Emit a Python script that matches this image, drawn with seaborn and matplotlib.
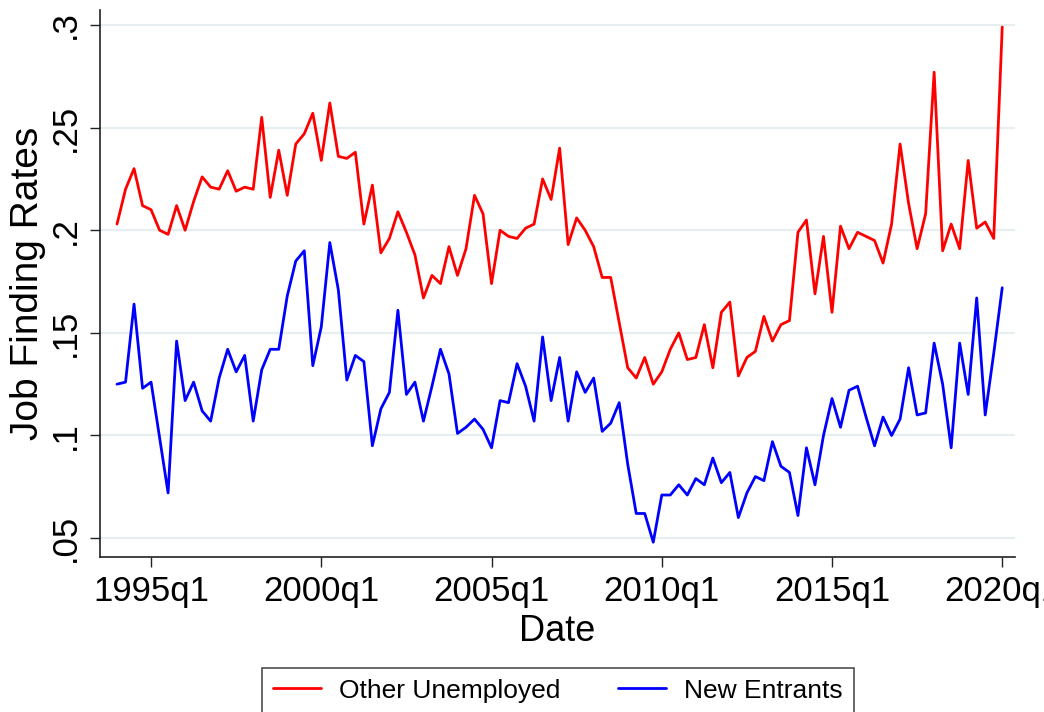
import numpy as np
import pandas as pd
import matplotlib
matplotlib.use("Agg")
import matplotlib.pyplot as plt
import seaborn as sns

# Quarterly data, 1994q1 .. 2020q1
start_year = 1994
other_unemployed = [
    0.203, 0.220, 0.230, 0.212, 0.210, 0.200, 0.198, 0.212, 0.200, 0.214,
    0.226, 0.221, 0.220, 0.229, 0.219, 0.221, 0.220, 0.255, 0.216, 0.239,
    0.217, 0.242, 0.247, 0.257, 0.234, 0.262, 0.236, 0.235, 0.238, 0.203,
    0.222, 0.189, 0.196, 0.209, 0.199, 0.188, 0.167, 0.178, 0.174, 0.192,
    0.178, 0.191, 0.217, 0.208, 0.174, 0.200, 0.197, 0.196, 0.201, 0.203,
    0.225, 0.215, 0.240, 0.193, 0.206, 0.200, 0.192, 0.177, 0.177, 0.155,
    0.133, 0.128, 0.138, 0.125, 0.131, 0.142, 0.150, 0.137, 0.138, 0.154,
    0.133, 0.160, 0.165, 0.129, 0.138, 0.141, 0.158, 0.146, 0.154, 0.156,
    0.199, 0.205, 0.169, 0.197, 0.160, 0.202, 0.191, 0.199, 0.197, 0.195,
    0.184, 0.203, 0.242, 0.213, 0.191, 0.208, 0.277, 0.190, 0.203, 0.191,
    0.234, 0.201, 0.204, 0.196, 0.299,
]
new_entrants = [
    0.125, 0.126, 0.164, 0.123, 0.126, 0.099, 0.072, 0.146, 0.117, 0.126,
    0.112, 0.107, 0.128, 0.142, 0.131, 0.139, 0.107, 0.132, 0.142, 0.142,
    0.168, 0.185, 0.190, 0.134, 0.153, 0.194, 0.171, 0.127, 0.139, 0.136,
    0.095, 0.113, 0.121, 0.161, 0.120, 0.126, 0.107, 0.124, 0.142, 0.130,
    0.101, 0.104, 0.108, 0.103, 0.094, 0.117, 0.116, 0.135, 0.124, 0.107,
    0.148, 0.117, 0.138, 0.107, 0.131, 0.121, 0.128, 0.102, 0.106, 0.116,
    0.086, 0.062, 0.062, 0.048, 0.071, 0.071, 0.076, 0.071, 0.079, 0.076,
    0.089, 0.077, 0.082, 0.060, 0.072, 0.080, 0.078, 0.097, 0.085, 0.082,
    0.061, 0.094, 0.076, 0.100, 0.118, 0.104, 0.122, 0.124, 0.109, 0.095,
    0.109, 0.100, 0.108, 0.133, 0.110, 0.111, 0.145, 0.125, 0.094, 0.145,
    0.120, 0.167, 0.110, 0.140, 0.172,
]
series_names = ["Other Unemployed", "New Entrants"]
series_colors = ["#ff0000", "#0000ff"]
x_tick_labels = ["1995q1", "2000q1", "2005q1", "2010q1", "2015q1", "2020q1"]
y_ticks = [0.05, 0.10, 0.15, 0.20, 0.25, 0.30]
y_tick_labels = [".05", ".1", ".15", ".2", ".25", ".3"]

n = len(other_unemployed)
t = np.arange(n)  # quarter index, 0 = 1994q1
df = pd.concat([
    pd.DataFrame({"t": t, "rate": other_unemployed, "series": series_names[0]}),
    pd.DataFrame({"t": t, "rate": new_entrants, "series": series_names[1]}),
])

sns.set_theme(style="white")
plt.rcParams["font.family"] = ["Liberation Sans", "DejaVu Sans"]
plt.rcParams["text.color"] = "black"
plt.rcParams["axes.labelcolor"] = "black"
plt.rcParams["xtick.color"] = "black"
plt.rcParams["ytick.color"] = "black"

fig = plt.figure(figsize=(10.44, 7.12), dpi=100)
ax = fig.add_axes([100 / 1044, 1 - 557 / 712, (1015 - 100) / 1044, (557 - 10) / 712])

sns.lineplot(data=df, x="t", y="rate", hue="series", hue_order=series_names,
             palette=series_colors, linewidth=2.0, ax=ax, legend=False)

ax.set_xlim(-2.0, 105.5)
ax.set_ylim(0.0408, 0.3073)

tick_pos = [(int(lbl[:4]) - start_year) * 4 for lbl in x_tick_labels]
ax.set_xticks(tick_pos)
ax.set_xticklabels(x_tick_labels, fontsize=25)
ax.set_yticks(y_ticks)
ax.set_yticklabels(y_tick_labels, fontsize=25, rotation=90, va="center")

ax.grid(axis="y", color="#e6eef1", linewidth=1.6)
ax.grid(axis="x", visible=False)
ax.set_axisbelow(True)

for side in ["top", "right"]:
    ax.spines[side].set_visible(False)
for side in ["left", "bottom"]:
    ax.spines[side].set_color("#222222")
    ax.spines[side].set_linewidth(1.2)

ax.tick_params(axis="both", direction="out", length=7, width=1.0, color="#222222",
               left=True, bottom=True)
ax.tick_params(axis="x", pad=6)
ax.tick_params(axis="y", pad=6)

ax.set_xlabel("Date", fontsize=26, labelpad=4)
ax.set_ylabel("Job Finding Rates", fontsize=28, labelpad=2)

handles = [plt.Line2D([], [], color=c, linewidth=2.0) for c in series_colors]
leg = fig.legend(handles, series_names, loc="upper center",
                 bbox_to_anchor=(558 / 1044, 1 - 668 / 712), ncol=2,
                 fontsize=19, frameon=True, fancybox=False, edgecolor="#222222",
                 handlelength=1.8, handletextpad=0.7, columnspacing=2.2,
                 borderpad=0.4, borderaxespad=0.0)
leg.get_frame().set_linewidth(1.2)

fig.savefig("out.png", dpi=100)
